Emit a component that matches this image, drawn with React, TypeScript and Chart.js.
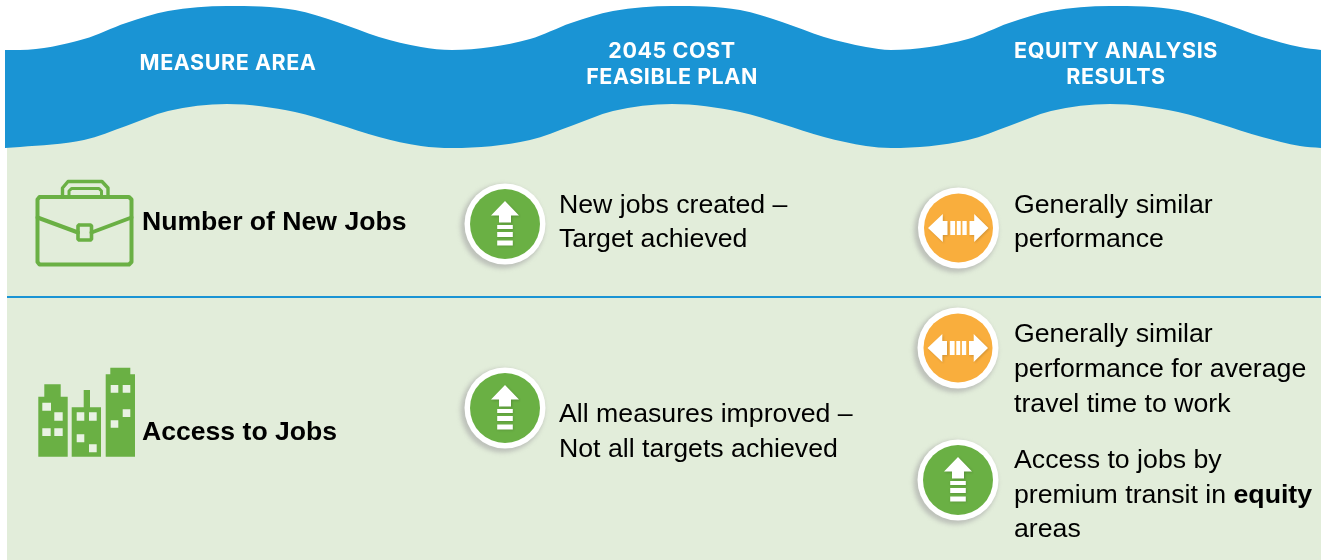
import React, { useEffect, useRef } from "react";
import { Chart, registerables } from "chart.js";

type Pt = [number, number];

const BLUE = "#1A94D4";
const PALE = "#E2EDDA";
const GREEN = "#6AB044";
const ORANGE = "#F9AE3D";

// header waves
const waveX = [5, 20, 84, 126, 168, 227, 295, 337, 379, 421, 452, 530, 571, 613, 672, 740, 782, 824, 866, 891, 968, 1009, 1051, 1110, 1178, 1220, 1262, 1300, 1321];
const waveTop = [50, 50, 39, 23, 11, 6, 10, 22, 37, 47, 50, 39, 23, 11, 6, 10, 22, 37, 47, 50, 39, 23, 11, 6, 10, 22, 37, 47, 50];
const waveBottom = [148, 147, 140, 126, 111, 104, 112, 124, 137, 146, 148, 140, 126, 111, 104, 112, 124, 137, 146, 148, 140, 126, 111, 104, 112, 124, 137, 146, 148];

// icon positions
const upIcons: Pt[] = [[505, 224], [505, 408], [958, 480]];
const sideIcons: Pt[] = [[958.5, 228], [958, 348]];

// glyph outlines, relative to an icon centre
const upHead: Pt[] = [[0, -23], [14, -8.5], [6, -8.5], [6, -1.5], [-6, -1.5], [-6, -8.5], [-14, -8.5]];
const upBars: Pt[][] = [
  [[-7.8, 1], [7.8, 1], [7.8, 5], [-7.8, 5]],
  [[-7.8, 8], [7.8, 8], [7.8, 13], [-7.8, 13]],
  [[-7.8, 16.5], [7.8, 16.5], [7.8, 21.5], [-7.8, 21.5]],
];
const leftHead: Pt[] = [[-30.5, 0], [-15.7, -14], [-15.7, -7], [-11, -7], [-11, 7], [-15.7, 7], [-15.7, 14]];
const rightHead: Pt[] = [[30, 0], [15.7, -14], [15.7, -7], [11, -7], [11, 7], [15.7, 7], [15.7, 14]];
const sideBars: Pt[][] = [
  [[-8.2, -7], [-3.4, -7], [-3.4, 7], [-8.2, 7]],
  [[-1.7, -7], [2.2, -7], [2.2, 7], [-1.7, 7]],
  [[3.9, -7], [8.2, -7], [8.2, 7], [3.9, 7]],
];

// briefcase lines
const caseBody: Pt[] = [[39.5, 197], [129, 197], [131.5, 199.5], [131.5, 262], [129, 264.5], [39.5, 264.5], [37.5, 262], [37.5, 199.5]];
const caseFlap: Pt[] = [[37.5, 217.5], [78, 232.5]];
const caseFlapRight: Pt[] = [[91.5, 232.5], [131.5, 217.5]];
const caseClasp: Pt[] = [[79, 225], [90.5, 225], [91.5, 226], [91.5, 239], [90.5, 240], [79, 240], [78, 239], [78, 226]];
const caseHandleOuter: Pt[] = [[62.5, 196], [62.5, 188], [68, 181.5], [102, 181.5], [108, 188], [108, 196]];
const caseHandleInner: Pt[] = [[69, 196], [69, 191], [71.5, 188.5], [99, 188.5], [101.5, 191], [101.5, 196]];

// city blocks and their windows: [left, top, right, bottom]
const blocks: number[][] = [
  [38.3, 396.7, 67.7, 456.7], [44.3, 384.3, 60.7, 397], [71.7, 407.3, 101, 456.7], [83.7, 390, 90, 408],
  [105.7, 374.3, 135, 456.7], [110.3, 367.7, 130.3, 375],
];
const windowsLit: number[][] = [
  [42.3, 402.7, 51, 410.7], [54.3, 412.3, 62.7, 420.7], [42.3, 428.3, 50.7, 436], [54.3, 428.3, 62.7, 436],
  [76.7, 412.3, 84.3, 420.7], [89, 412.3, 96.7, 420.7], [76.7, 434.3, 84.3, 442.3], [89, 444.3, 96.7, 452.3],
  [110.7, 385, 118.3, 392.7], [122.7, 385, 130.3, 392.7], [122.7, 409.3, 130.3, 417], [110.7, 420.3, 118.3, 427.7],
];

// row divider and panel
const dividerX = [7, 1321];
const dividerY = [297, 297];
const panel: Pt[] = [[7, 80], [1321, 80], [1321, 560], [7, 560]];

// texts: [text, x, baseline]
const headerTexts: [string, number, number][] = [
  ["MEASURE AREA", 228, 70],
  ["2045 COST", 672, 58],
  ["FEASIBLE PLAN", 672, 83.5],
  ["EQUITY ANALYSIS", 1116, 58],
  ["RESULTS", 1116, 83.5],
];
const boldTexts: [string, number, number][] = [
  ["Number of New Jobs", 142, 230],
  ["Access to Jobs", 142, 440],
];
const bodyTexts: [string, number, number][] = [
  ["New jobs created –", 559, 213],
  ["Target achieved", 559, 247],
  ["Generally similar", 1014, 213],
  ["performance", 1014, 247],
  ["All measures improved –", 559, 422],
  ["Not all targets achieved", 559, 457],
  ["Generally similar", 1014, 342],
  ["performance for average", 1014, 377],
  ["travel time to work", 1014, 412],
  ["Access to jobs by", 1014, 468],
  ["areas", 1014, 537],
];
const mixedPlain = "premium transit in ";
const mixedBold = "equity";
const mixedAt: Pt = [1014, 503];

const pts = (list: Pt[]) => list.map(([x, y]) => ({ x, y }));
const place = (list: Pt[], c: Pt, dx = 0, dy = 0) => list.map(([x, y]) => ({ x: x + c[0] + dx, y: y + c[1] + dy }));
const box = (b: number[]): Pt[] => [[b[0], b[1]], [b[2], b[1]], [b[2], b[3]], [b[0], b[3]]];

const shape = (data: any[], color: string, soft = 0) => ({
  data, fill: "shape", backgroundColor: color, borderWidth: 0, pointRadius: 0, tension: 0, soft,
});
const stroke = (data: any[], width: number) => ({
  data, fill: false, borderColor: GREEN, borderWidth: width, pointRadius: 0, tension: 0,
  borderCapStyle: "round", borderJoinStyle: "round", soft: 0.3,
});
const discs = (centres: Pt[], radius: number, color: string, soft: number, dx = 0, dy = 0) => ({
  data: centres.map(([x, y]) => ({ x: x + dx, y: y + dy })),
  showLine: false, pointStyle: "circle", pointRadius: radius, pointBackgroundColor: color, pointBorderWidth: 0, soft,
});

const softEdge = {
  id: "softEdge",
  beforeDatasetDraw(chart: any, args: any) {
    const s = chart.data.datasets[args.index].soft;
    chart.ctx.filter = s ? `blur(${s}px)` : "none";
  },
  afterDatasetDraw(chart: any) {
    chart.ctx.filter = "none";
  },
};

const textLayer = {
  id: "textLayer",
  afterDatasetsDraw(chart: any) {
    const { ctx, scales } = chart;
    const X = (v: number) => scales.x.getPixelForValue(v);
    const Y = (v: number) => scales.y.getPixelForValue(v);
    ctx.save();
    ctx.textBaseline = "alphabetic";
    ctx.fillStyle = "#FFFFFF";
    ctx.font = '700 21.5px Inter';
    ctx.textAlign = "center";
    (ctx as any).letterSpacing = "0.55px";
    headerTexts.forEach(([t, x, y]) => ctx.fillText(t, X(x), Y(y)));
    (ctx as any).letterSpacing = "0px";
    ctx.textAlign = "left";
    ctx.fillStyle = "#000000";
    ctx.font = '700 26.6px "Liberation Sans"';
    boldTexts.forEach(([t, x, y]) => ctx.fillText(t, X(x), Y(y)));
    ctx.font = '400 26.7px "Liberation Sans"';
    bodyTexts.forEach(([t, x, y]) => ctx.fillText(t, X(x), Y(y)));
    ctx.fillText(mixedPlain, X(mixedAt[0]), Y(mixedAt[1]));
    const w = ctx.measureText(mixedPlain).width;
    ctx.font = '700 26.7px "Liberation Sans"';
    ctx.fillText(mixedBold, X(mixedAt[0]) + w, Y(mixedAt[1]));
    ctx.restore();
  },
};

Chart.register(softEdge, ...registerables);

export default function App() {
  const ref = useRef<HTMLCanvasElement | null>(null);
  useEffect(() => {
    document.body.style.margin = "0";
    const layers: any[] = [];
    layers.push(shape(pts(panel), PALE));
    layers.push({
      data: dividerX.map((x, i) => ({ x, y: dividerY[i] })),
      fill: false, borderColor: BLUE, borderWidth: 2, pointRadius: 0,
    });
    const topWave = waveX.map((x, i) => ({ x, y: waveTop[i] }));
    const botWave = waveX.map((x, i) => ({ x, y: waveBottom[i] }));
    layers.push({ data: topWave, fill: "+1", backgroundColor: BLUE, borderWidth: 0, pointRadius: 0, cubicInterpolationMode: "monotone" });
    layers.push({ data: botWave, fill: false, borderWidth: 0, pointRadius: 0, cubicInterpolationMode: "monotone" });

    // briefcase
    layers.push(stroke([...pts(caseBody), pts(caseBody)[0]], 4));
    layers.push(stroke(pts(caseFlap), 4));
    layers.push(stroke(pts(caseFlapRight), 4));
    layers.push(stroke([...pts(caseClasp), pts(caseClasp)[0]], 3.6));
    layers.push(stroke(pts(caseHandleOuter), 3.4));
    layers.push(stroke(pts(caseHandleInner), 3));

    // city
    blocks.forEach((b) => layers.push(shape(pts(box(b)), GREEN, 0.3)));
    windowsLit.forEach((b) => layers.push(shape(pts(box(b)), "#E9F2E3", 0.3)));

    // badges
    const all = [...upIcons, ...sideIcons];
    layers.push(discs(all, 42, "rgba(165,165,165,0.6)", 2, -2.5, 2.5));
    layers.push(discs(all, 40.5, "#FFFFFF", 0.6));
    layers.push(discs(upIcons, 35, GREEN, 0.5));
    layers.push(discs(sideIcons, 34.5, ORANGE, 0.5));
    upIcons.forEach((c) => {
      layers.push(shape(place(upHead, c, 1, 1), "rgba(0,0,0,0.18)", 1));
      upBars.forEach((b) => layers.push(shape(place(b, c, 0.6, 0.8), "rgba(0,0,0,0.15)", 0.8)));
      layers.push(shape(place(upHead, c), "#FFFFFF", 0.3));
      upBars.forEach((b) => layers.push(shape(place(b, c), "#FFFFFF", 0.3)));
    });
    sideIcons.forEach((c) => {
      [leftHead, rightHead].forEach((h) => layers.push(shape(place(h, c, 1, 1), "rgba(0,0,0,0.15)", 1)));
      [leftHead, rightHead, ...sideBars].forEach((h) => layers.push(shape(place(h, c), "#FFFFFF", 0.3)));
    });

    layers.forEach((l, i) => {
      l.order = layers.length - i;
      l.clip = false;
    });

    const chart = new Chart(ref.current as HTMLCanvasElement, {
      type: "line",
      data: { datasets: layers },
      options: {
        animation: false,
        responsive: false,
        events: [],
        layout: { padding: 0, autoPadding: false },
        parsing: false,
        normalized: false,
        plugins: { legend: { display: false }, tooltip: { enabled: false }, title: { display: false } },
        scales: {
          x: { type: "linear", min: 0, max: 1321, display: false },
          y: { type: "linear", min: 0, max: 560, reverse: true, display: false },
        },
      } as any,
      plugins: [textLayer],
    } as any);
    return () => chart.destroy();
  }, []);
  return (
    <canvas
      ref={ref}
      width={1321}
      height={560}
      style={{ position: "absolute", left: 0, top: 0, display: "block", background: "#FFFFFF" }}
    />
  );
}
